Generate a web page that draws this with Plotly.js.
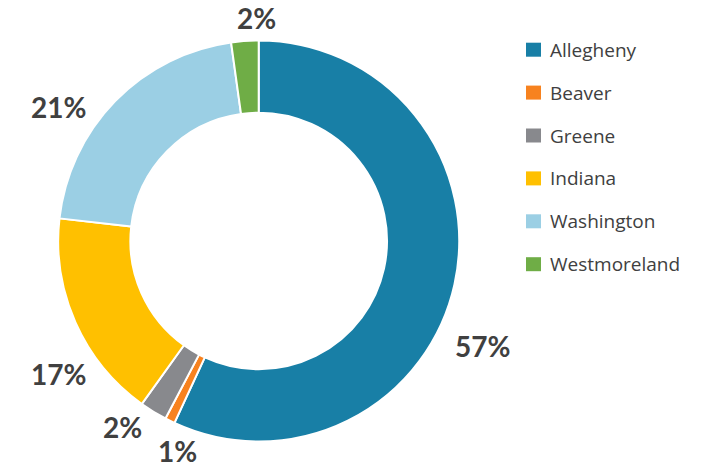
<!DOCTYPE html>
<html>
<head>
<meta charset="utf-8">
<script src="https://cdn.plot.ly/plotly-3.0.1.min.js"></script>
<style>
  html, body { margin: 0; padding: 0; background: #ffffff; }
  #chart { width: 720px; height: 469px; }
</style>
</head>
<body>
<div id="chart"></div>
<script>
// ---- data ----
const categories = ["Allegheny", "Beaver", "Greene", "Indiana", "Washington", "Westmoreland"];
const shares = [56.9, 0.8, 2.2, 16.9, 21.0, 2.2];
const colors = ["#187fa6", "#f7821f", "#88898d", "#ffc000", "#9bcfe4", "#6fad46"];

// ---- layout helpers (pixel positions in the 720x469 canvas) ----
const W = 720, H = 469;
const px = x => x / W;
const py = y => 1 - y / H;
// label anchor positions (pixels) for the percentage labels, one per category
const labelPos = [[482.5, 346], [177.5, 451], [122, 426.5], [58.3, 374], [58.6, 107.5], [256, 17.5]];

const pie = {
  type: "pie",
  labels: categories,
  values: shares,
  sort: false,
  direction: "clockwise",
  rotation: 0,
  hole: 0.64,
  textinfo: "none",
  hoverinfo: "label+percent",
  marker: { colors: colors, line: { color: "#ffffff", width: 2 } },
  domain: { x: [px(258.7 - 200.5), px(258.7 + 200.5)], y: [py(241 + 200.5), py(241 - 200.5)] },
  showlegend: false
};

const total = shares.reduce((a, b) => a + b, 0);
const annotations = [];
const shapes = [];
shares.forEach((v, i) => {
  annotations.push({
    xref: "paper", yref: "paper",
    x: px(labelPos[i][0]), y: py(labelPos[i][1]),
    xanchor: "center", yanchor: "middle",
    height: 26, valign: "middle",
    text: Math.round(v / total * 100) + "%",
    showarrow: false,
    font: { family: "Lato, 'Open Sans', sans-serif", size: 28, weight: 700, color: "#404040" }
  });
});
// legend built from the categories
categories.forEach((c, i) => {
  const cy = 49.7 + 42.9 * i;
  shapes.push({
    type: "rect", xref: "paper", yref: "paper",
    x0: px(526), x1: px(541), y0: py(cy + 7), y1: py(cy - 7),
    fillcolor: colors[i], line: { width: 0 }
  });
  annotations.push({
    xref: "paper", yref: "paper",
    x: px(548), y: py(cy),
    xanchor: "left", yanchor: "middle",
    text: c, showarrow: false,
    font: { family: "'Open Sans', sans-serif", size: 19, color: "#404040" }
  });
});

const layout = {
  width: W, height: H,
  margin: { l: 0, r: 0, t: 0, b: 0 },
  paper_bgcolor: "#ffffff",
  showlegend: false,
  annotations: annotations,
  shapes: shapes
};

Plotly.newPlot("chart", [pie], layout, { displayModeBar: false, staticPlot: true });
</script>
</body>
</html>
